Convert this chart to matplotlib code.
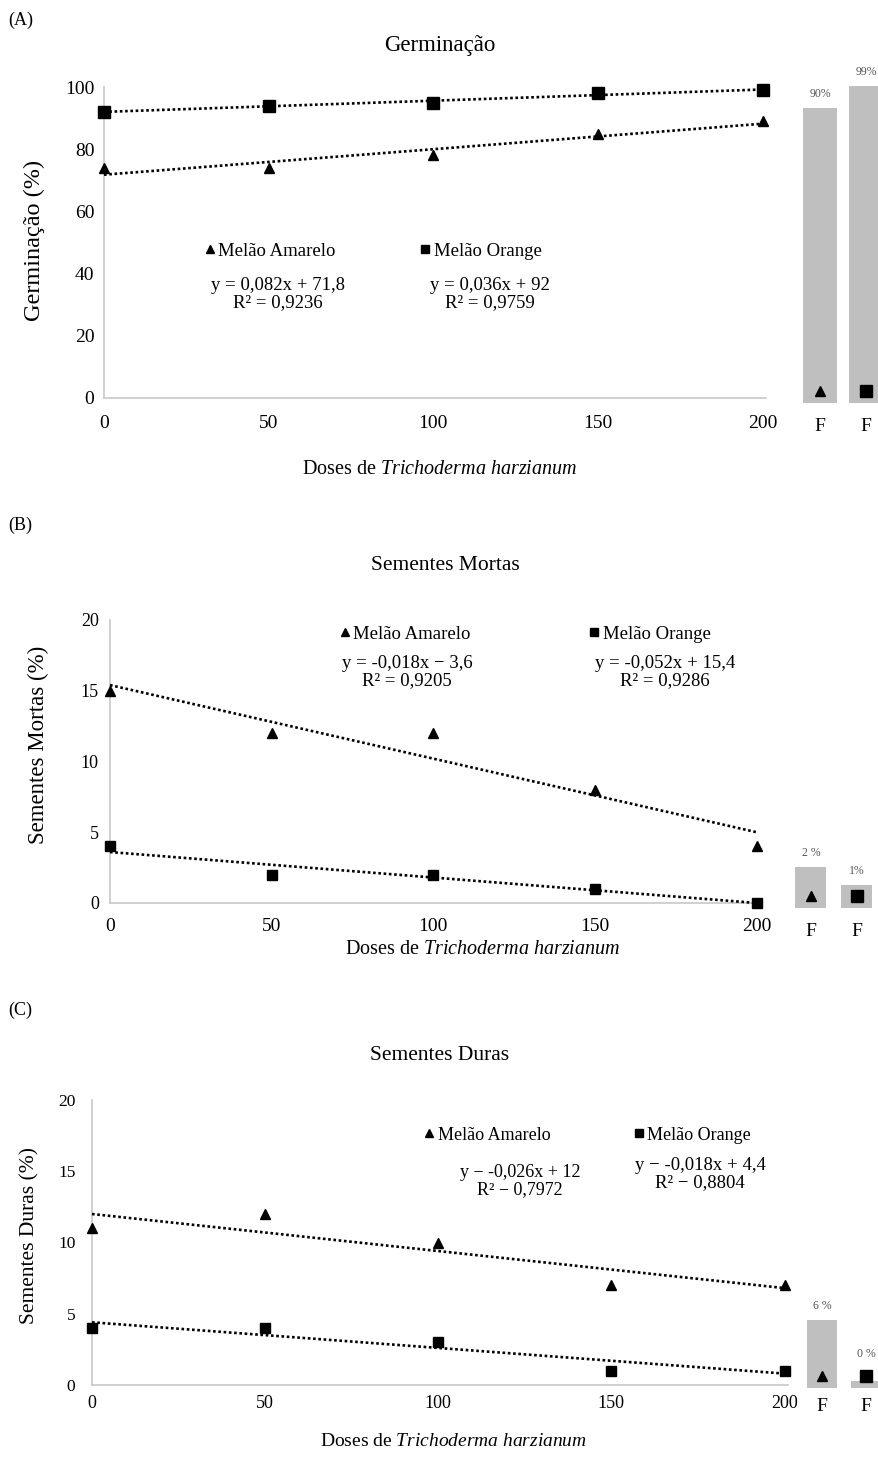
import numpy as np
import matplotlib
matplotlib.use("Agg")
import matplotlib.pyplot as plt
from matplotlib.transforms import ScaledTranslation

plt.rcParams['font.family'] = ['Liberation Serif', 'DejaVu Sans']
plt.rcParams['mathtext.fontset'] = 'custom'
plt.rcParams['mathtext.rm'] = 'Liberation Serif'
plt.rcParams['mathtext.it'] = 'Liberation Serif:italic'

# === Data ===
doses = [0, 50, 100, 150, 200]

germ_amarelo = [74, 74, 78, 85, 89]
germ_orange = [92, 94, 95, 98, 99]
mortas_amarelo = [15, 12, 12, 8, 4]
mortas_orange = [4, 2, 2, 1, 0]
duras_amarelo = [11, 12, 10, 7, 7]
duras_orange = [4, 4, 3, 1, 1]

# F bars (inset) values and labels
germ_f = [90, 99]
mortas_f = [2, 1]
duras_f = [6, 0]
germ_f_labels = ["90%", "99%"]
mortas_f_labels = ["2 %", "1%"]
duras_f_labels = ["6 %", "0 %"]

germ_eq = ["y = 0,082x + 71,8\nR² = 0,9236", "y = 0,036x + 92\nR² = 0,9759"]
mortas_eq = ["y = -0,018x − 3,6\nR² = 0,9205", "y = -0,052x + 15,4\nR² = 0,9286"]
duras_eq = ["y − -0,026x + 12\nR² − 0,7972", "y − -0,018x + 4,4\nR² − 0,8804"]

xlabel = "Doses de $\\it{Trichoderma\\ harzianum}$"

W, H = 879, 1457
fig = plt.figure(figsize=(W / 100, H / 100), dpi=100)


def rect(left, right, top, bottom):
    return [left / W, 1 - bottom / H, (right - left) / W, (bottom - top) / H]


def main_panel(box, ymax, yticks, amarelo, orange, xt, yt, xpad, ypad, sq):
    ax = fig.add_axes(rect(*box))
    x = np.array(doses)
    for y, m, ms, lab in [(amarelo, '^', 7.5, 'Melão Amarelo'), (orange, 's', sq, 'Melão Orange')]:
        ax.plot(x, y, linestyle='none', marker=m, color='black', ms=ms, label=lab, clip_on=False, zorder=4)
        k, b = np.polyfit(x, y, 1)  # linear trend line
        ax.plot(x, k * x + b, color='black', ls=(0, (1, 1)), lw=1.9, clip_on=False, zorder=3)
    ax.set_xlim(0, 201)
    ax.set_ylim(0, ymax)
    ax.set_xticks(doses)
    ax.set_yticks(yticks)
    ax.tick_params(length=0)
    ax.tick_params(axis='x', labelsize=xt, pad=xpad)
    ax.tick_params(axis='y', labelsize=yt, pad=ypad)
    for s in ['top', 'right']:
        ax.spines[s].set_visible(False)
    for s in ['left', 'bottom']:
        ax.spines[s].set_color('#c8c8c8')
        ax.spines[s].set_linewidth(1.2)
    return ax


def inset(left, right, base, scale, ymin, ymax, vals, labels, x0, step, width, fpad):
    top = base - (ymax - ymin) * scale
    ax = fig.add_axes(rect(left, right, top, base))
    ax.set_xlim((left - x0) / step, (right - x0) / step)
    ax.set_ylim(ymin, ymax)
    pos = [0, 1]
    ax.bar(pos, [v - ymin for v in vals], bottom=ymin, width=width / step, color='#bfbfbf')
    off = ScaledTranslation(0, 12 / 100, fig.dpi_scale_trans)
    for p, m, ms in [(0, '^', 7), (1, 's', 8.5)]:
        ax.plot(p, ymin, marker=m, color='black', ms=ms, transform=ax.transData + off, clip_on=False)
    for p, v, lab in zip(pos, vals, labels):
        ytop = max(v, ymin + 20 / scale)
        ax.text(p, ytop + 14 / scale, lab, ha='center', va='center', fontsize=8.5, color='#555555')
    ax.set_xticks(pos)
    ax.set_xticklabels(['F', 'F'], fontsize=14)
    ax.tick_params(length=0, pad=fpad)
    ax.set_yticks([])
    for s in ax.spines.values():
        s.set_visible(False)
    ax.patch.set_alpha(0)
    return ax


def legend(ax, x, y, spacing, size):
    ax.legend(loc='center left', bbox_to_anchor=(x / W, 1 - y / H), bbox_transform=fig.transFigure,
              ncol=2, frameon=False, handlelength=0.6, handletextpad=0.15, columnspacing=spacing,
              fontsize=size, borderpad=0, borderaxespad=0, markerscale=0.7)


def put(x, y, s, size, **kw):
    fig.text(x / W, 1 - y / H, s, fontsize=size, ha='center', va='center', **kw)


# === Panel A ===
axA = main_panel((104, 766, 87, 398), 100, [0, 20, 40, 60, 80, 100], germ_amarelo, germ_orange,
                 14, 14, 12, 7, 8.5)
inset(790, 879, 403, 2.44, -31, 110, germ_f, germ_f_labels, 820, 46, 34, 11)
fig.text(8 / W, 1 - 20 / H, "(A)", fontsize=13, va='center')
put(440, 45, "Germinação", 16.5)
put(440, 470, xlabel, 14.5)
put(34, 240, "Germinação (%)", 17.5, rotation=90)
legend(axA, 204, 251, 4.5, 13.5)
put(278, 294, germ_eq[0], 13.5, linespacing=1.05)
put(490, 294, germ_eq[1], 13.5, linespacing=1.05)

# === Panel B ===
axB = main_panel((110, 760, 620, 903), 20, [0, 5, 10, 15, 20], mortas_amarelo, mortas_orange,
                 14, 13, 11, 8, 7.5)
inset(780, 879, 908, 18, -0.28, 3.5, mortas_f, mortas_f_labels, 811, 46, 31, 11)
fig.text(8 / W, 1 - 525 / H, "(B)", fontsize=13, va='center')
put(445, 565, "Sementes Mortas", 15.5)
put(483, 950, xlabel, 14.5)
put(38, 745, "Sementes Mortas (%)", 16.5, rotation=90)
legend(axB, 339, 634, 6.3, 13.5)
put(407, 672, mortas_eq[0], 13.5, linespacing=1.0)
put(665, 672, mortas_eq[1], 13.5, linespacing=1.0)

# === Panel C ===
axC = main_panel((92, 788, 1100, 1385), 20, [0, 5, 10, 15, 20], duras_amarelo, duras_orange,
                 13, 12.5, 7, 12, 7.5)
inset(790, 879, 1388, 10.2, -0.69, 8, duras_f, duras_f_labels, 822, 44, 30, 7)
fig.text(8 / W, 1 - 1010 / H, "(C)", fontsize=13, va='center')
put(440, 1055, "Sementes Duras", 15.5)
put(453, 1441, xlabel, 14)
put(30, 1235, "Sementes Duras (%)", 15.5, rotation=90)
legend(axC, 424, 1135, 4.6, 13)
put(520, 1181, duras_eq[0], 13, linespacing=1.0)
put(700, 1174, duras_eq[1], 13.5, linespacing=1.0)

fig.savefig("out.png", dpi=100)
